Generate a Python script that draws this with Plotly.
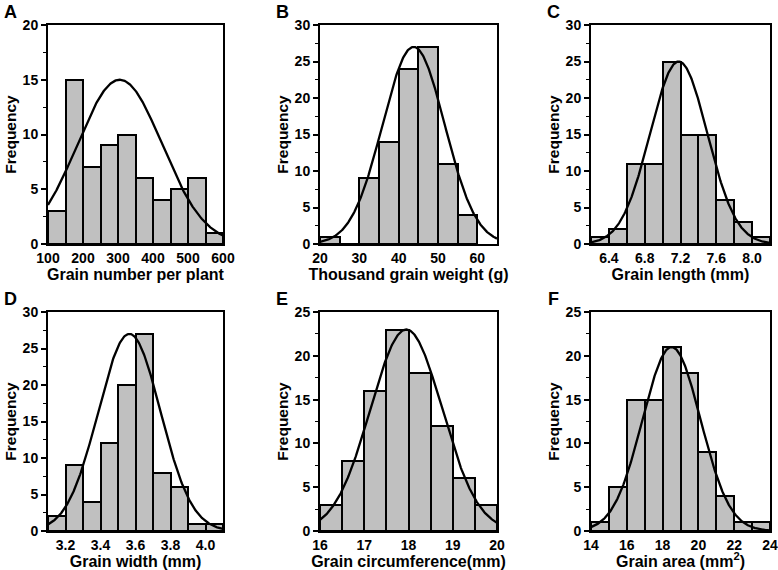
import numpy as np
import plotly.graph_objects as go

# ---- data (histogram counts per bin) ----
a_start, a_width = 100, 50
a_counts = [3, 15, 7, 9, 10, 6, 4, 5, 6, 1]
a_fit = dict(mean=305, sd=121, peak=15)

b_start, b_width = 20, 5
b_counts = [1, 0, 9, 14, 24, 27, 11, 4]
b_fit = dict(mean=43.8, sd=7.9, peak=27)

c_start, c_width = 6.2, 0.2
c_counts = [1, 2, 11, 11, 25, 15, 15, 6, 3, 1]
c_fit = dict(mean=7.18, sd=0.32, peak=25)

d_start, d_width = 3.1, 0.1
d_counts = [2, 9, 4, 12, 20, 27, 8, 6, 1, 1]
d_fit = dict(mean=3.565, sd=0.178, peak=27)

e_start, e_width = 16, 0.5
e_counts = [3, 8, 16, 23, 18, 12, 6, 3]
e_fit = dict(mean=17.95, sd=0.81, peak=23)

f_start, f_width = 14, 1
f_counts = [1, 5, 15, 15, 21, 18, 9, 4, 1, 1]
f_fit = dict(mean=18.5, sd=1.62, peak=21)

panels = [
    dict(label="A", start=a_start, width=a_width, counts=a_counts, fit=a_fit,
         xrange=[100, 600], xticks=[100, 200, 300, 400, 500, 600], xfmt="{:.0f}",
         yrange=[0, 20], ydtick=5, title="Grain number per plant"),
    dict(label="B", start=b_start, width=b_width, counts=b_counts, fit=b_fit,
         xrange=[20, 65], xticks=[20, 30, 40, 50, 60], xfmt="{:.0f}",
         yrange=[0, 30], ydtick=5, title="Thousand grain weight (g)"),
    dict(label="C", start=c_start, width=c_width, counts=c_counts, fit=c_fit,
         xrange=[6.2, 8.2], xticks=[6.4, 6.8, 7.2, 7.6, 8.0], xfmt="{:.1f}",
         yrange=[0, 30], ydtick=5, title="Grain length (mm)"),
    dict(label="D", start=d_start, width=d_width, counts=d_counts, fit=d_fit,
         xrange=[3.1, 4.1], xticks=[3.2, 3.4, 3.6, 3.8, 4.0], xfmt="{:.1f}",
         yrange=[0, 30], ydtick=5, title="Grain width (mm)"),
    dict(label="E", start=e_start, width=e_width, counts=e_counts, fit=e_fit,
         xrange=[16, 20], xticks=[16, 17, 18, 19, 20], xfmt="{:.0f}",
         yrange=[0, 25], ydtick=5, title="Grain circumference(mm)"),
    dict(label="F", start=f_start, width=f_width, counts=f_counts, fit=f_fit,
         xrange=[14, 24], xticks=[14, 16, 18, 20, 22, 24], xfmt="{:.0f}",
         yrange=[0, 25], ydtick=5, title="Grain area (mm<sup>2</sup>)"),
]

W, H = 778, 570
xpix = [(48, 223), (320, 497), (591, 770)]
ypix = [(25, 244), (312, 531)]

FONT = "Liberation Sans, Arial, sans-serif"
fig = go.Figure()
layout = dict(
    width=W, height=H, margin=dict(l=0, r=0, t=0, b=0, autoexpand=False),
    paper_bgcolor="white", plot_bgcolor="white", showlegend=False,
    font=dict(family=FONT, color="black"),
    bargap=0,
)
annotations = []

for i, p in enumerate(panels):
    row, col = divmod(i, 3)
    n = i + 1
    xa = "x" if n == 1 else f"x{n}"
    ya = "y" if n == 1 else f"y{n}"
    centers = [p["start"] + p["width"] * (k + 0.5) for k in range(len(p["counts"]))]
    fig.add_trace(go.Bar(
        x=centers, y=p["counts"], width=[p["width"]] * len(p["counts"]),
        marker=dict(color="#c0c0c0", line=dict(color="black", width=2)),
        xaxis=xa, yaxis=ya, hoverinfo="x+y",
    ))
    fit = p["fit"]
    xs = np.linspace(p["xrange"][0], p["xrange"][1], 300)
    ys = fit["peak"] * np.exp(-((xs - fit["mean"]) ** 2) / (2 * fit["sd"] ** 2))
    fig.add_trace(go.Scatter(
        x=xs, y=ys, mode="lines", line=dict(color="black", width=2.3),
        xaxis=xa, yaxis=ya, hoverinfo="skip", cliponaxis=True,
    ))
    x0, x1 = xpix[col]
    y0, y1 = ypix[row]
    xdom = [x0 / W, x1 / W]
    ydom = [1 - y1 / H, 1 - y0 / H]
    xkey = "xaxis" if n == 1 else f"xaxis{n}"
    ykey = "yaxis" if n == 1 else f"yaxis{n}"
    layout[xkey] = dict(
        domain=xdom, anchor=ya, range=p["xrange"], automargin=False,
        tickmode="array", tickvals=p["xticks"],
        ticktext=[p["xfmt"].format(v) for v in p["xticks"]],
        ticks="", showgrid=False, zeroline=False,
        showline=True, linecolor="black", linewidth=2, mirror=True,
        tickfont=dict(size=14, family=FONT, color="black", weight="bold"),
        title=dict(text=p["title"], standoff=0,
                   font=dict(size=16, family=FONT, color="black", weight="bold")),
    )
    layout[ykey] = dict(
        domain=ydom, anchor=xa, range=p["yrange"], dtick=p["ydtick"], tick0=0,
        automargin=False,
        ticks="outside", ticklen=5, tickwidth=1.5, tickcolor="black",
        minor=dict(dtick=p["ydtick"] / 2, ticks="outside", ticklen=3,
                   tickwidth=1.2, tickcolor="black"),
        showgrid=False, zeroline=False,
        showline=True, linecolor="black", linewidth=2, mirror=True,
        tickfont=dict(size=14, family=FONT, color="black", weight="bold"),
        title=dict(text="Frequency", standoff=2,
                   font=dict(size=15.5, family=FONT, color="black", weight="bold")),
    )
    annotations.append(dict(
        text=p["label"], xref="paper", yref="paper",
        x=(x0 - 38) / W, y=1 - (y0 - 13) / H,
        xanchor="center", yanchor="middle", showarrow=False,
        font=dict(size=18, family=FONT, color="black", weight="bold"),
    ))

layout["annotations"] = annotations
fig.update_layout(**layout)
fig.write_html("out.html", config={"displayModeBar": False},
               post_script="document.body.style.margin='0';document.body.style.padding='0';")
